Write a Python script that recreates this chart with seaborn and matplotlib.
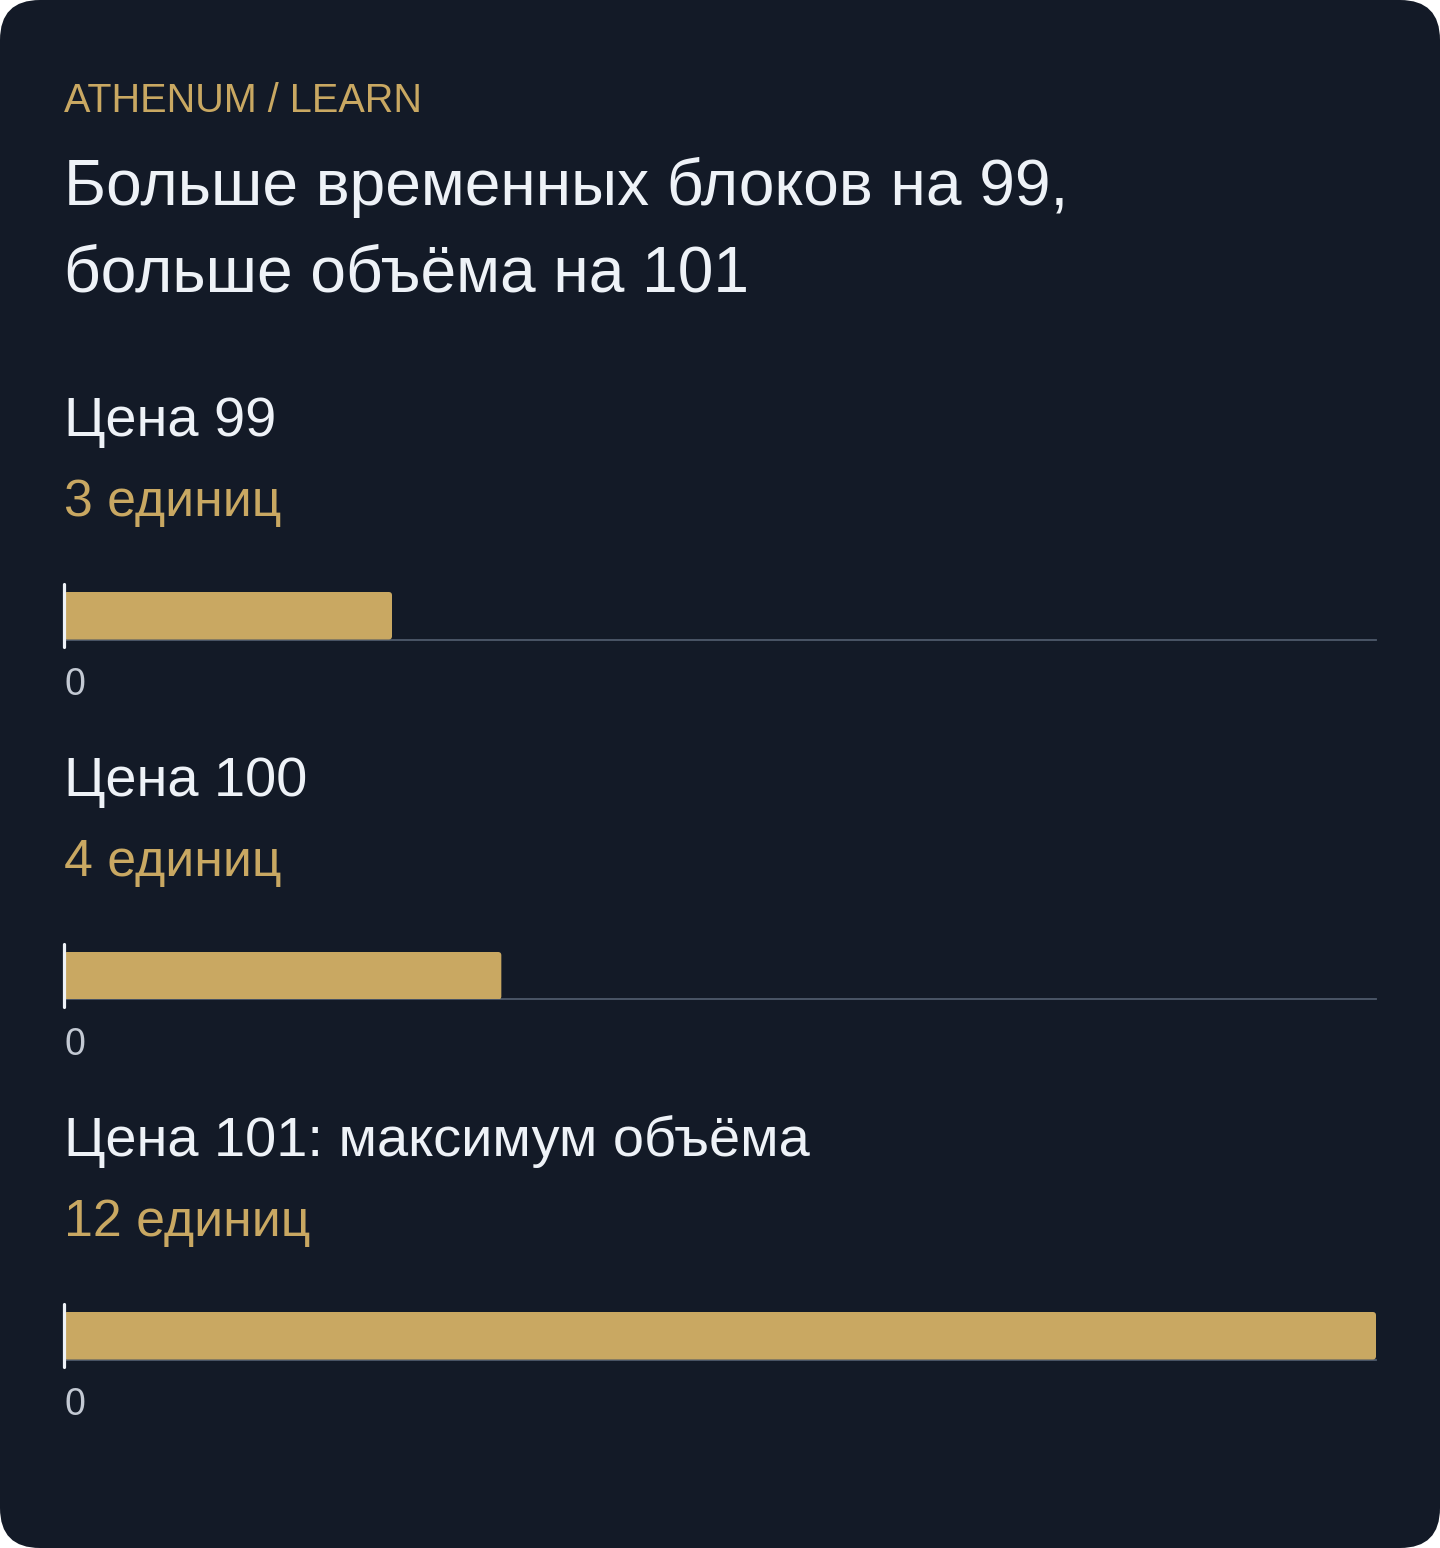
import matplotlib
matplotlib.use("Agg")
import matplotlib.pyplot as plt
import seaborn as sns
from matplotlib.patches import FancyBboxPatch

# data
prices = ["Цена 99", "Цена 100", "Цена 101: максимум объёма"]
units = [3, 4, 12]
unit_labels = ["3 единиц", "4 единиц", "12 единиц"]
x_max = 12
kicker = "ATHENUM / LEARN"
title_lines = ["Больше временных блоков на 99,", "больше объёма на 101"]

BG = "#131a27"
GOLD = "#c9a862"
WHITE = "#eef2f7"
MUTED = "#c3c9d3"
AXIS = "#4e5a6b"

sns.set_theme(style="white")
plt.rcParams["font.family"] = ["Liberation Sans", "DejaVu Sans"]

W, H = 1440, 1548
fig = plt.figure(figsize=(W / 100, H / 100), dpi=100)
fig.patch.set_facecolor("white")

# background card, pixel coordinates
bg = fig.add_axes([0, 0, 1, 1], zorder=0)
bg.set_xlim(0, W)
bg.set_ylim(H, 0)
bg.axis("off")
bg.add_patch(FancyBboxPatch((0, 0), W, H, boxstyle="round,pad=0,rounding_size=40",
                            facecolor=BG, edgecolor="none"))

bg.text(64, 112, kicker, color=GOLD, fontsize=28.5, va="baseline", ha="left")
bg.text(64, 205, title_lines[0], color=WHITE, fontsize=46.1, va="baseline", ha="left")
bg.text(64, 291, title_lines[1], color=WHITE, fontsize=46.1, va="baseline", ha="left")

step = 360
for i, (price, val, lab) in enumerate(zip(prices, units, unit_labels)):
    off = i * step
    bg.text(64, 436 + off, price, color=WHITE, fontsize=40.3, va="baseline", ha="left")
    bg.text(64, 516 + off, lab, color=GOLD, fontsize=37.4, va="baseline", ha="left")

    top, bottom = 592 + off, 639.5 + off
    ax = fig.add_axes([64 / W, 1 - bottom / H, 1312 / W, (bottom - top) / H], zorder=2)
    ax.set_facecolor("none")
    sns.barplot(x=[val], y=[price], orient="h", color=GOLD, width=0.8,
                saturation=1, ax=ax, zorder=3)
    ax.set_xlim(0, x_max)
    ax.set_ylim(0.4, -0.4)

    # rounded bar ends
    for p in list(ax.patches):
        x0, y0 = p.get_x(), p.get_y()
        w, h = p.get_width(), p.get_height()
        p.remove()
        ax.add_patch(FancyBboxPatch((x0, y0), w, h,
                                    boxstyle="round,pad=0,rounding_size=0.03",
                                    mutation_aspect=1.85, facecolor=GOLD,
                                    edgecolor="none", zorder=3))

    for s in ["top", "right", "left"]:
        ax.spines[s].set_visible(False)
    ax.spines["bottom"].set_color(AXIS)
    ax.spines["bottom"].set_linewidth(1.3)
    ax.spines["bottom"].set_zorder(2)

    ax.axvline(0, ymin=-7 / 47, ymax=1 + 8 / 47, color=WHITE, lw=2.3,
               clip_on=False, zorder=5)

    ax.set_yticks([])
    ax.set_ylabel("")
    ax.set_xlabel("")
    ax.set_xticks([0])
    ax.set_xticklabels(["0"])
    ax.tick_params(axis="x", length=0, pad=20, labelsize=27, labelcolor=MUTED)
    for t in ax.get_xticklabels():
        t.set_ha("left")

fig.savefig("out.png", dpi=100, facecolor=fig.get_facecolor())
